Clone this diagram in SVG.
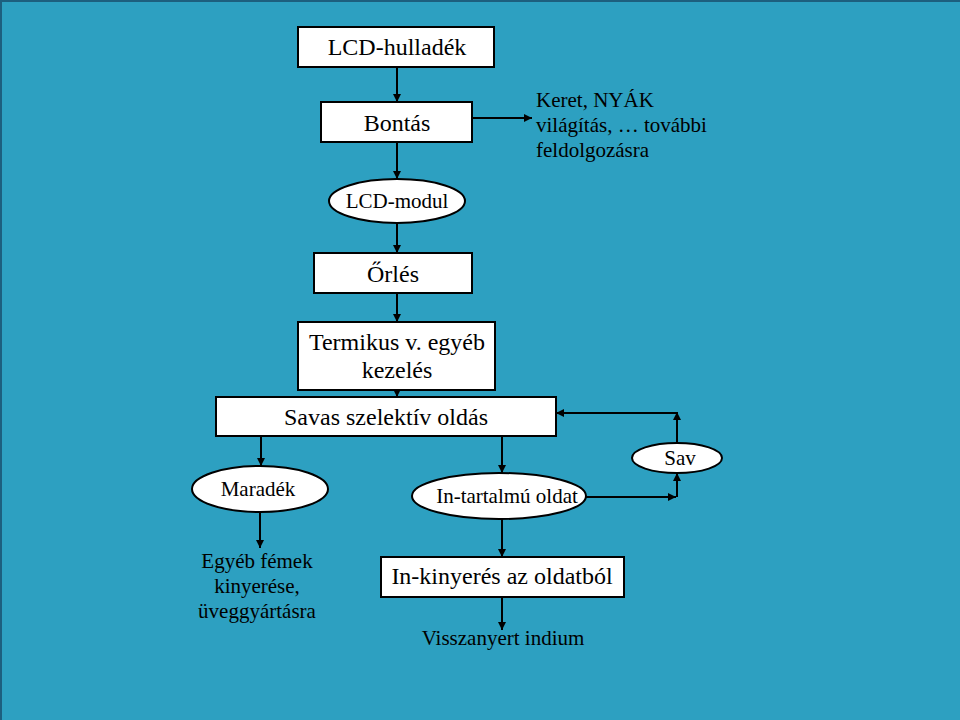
<svg xmlns="http://www.w3.org/2000/svg" width="960" height="720" viewBox="0 0 960 720">
<defs>
<marker id="ah" viewBox="0 0 10 10" refX="10" refY="5" markerWidth="8" markerHeight="8" markerUnits="userSpaceOnUse" orient="auto">
<path d="M0,0 L10,5 L0,10 z" fill="#000"/>
</marker>
</defs>
<style>
.box{fill:#fff;stroke:#000;stroke-width:2}
.t{font-family:"Liberation Serif","Times New Roman",serif;fill:#000;text-anchor:middle}
.l{font-size:24px}
.s{font-size:21px}
.w{font-family:"Liberation Serif","Times New Roman",serif;fill:#000;font-size:21px}
.c{fill:none;stroke:#000;stroke-width:2;marker-end:url(#ah)}
</style>
<rect x="0" y="0" width="960" height="720" fill="#2DA0C1"/>
<path d="M1,720 V1 H960" fill="none" stroke="#1d5f7e" stroke-width="2"/>
<g id="connectors">
<path class="c" d="M397,67 V102"/>
<path class="c" d="M472,118 H532"/>
<path class="c" d="M397,142 V179"/>
<path class="c" d="M397,223 V253"/>
<path class="c" d="M397,293 V322"/>
<path class="c" d="M397,390 V397"/>
<path class="c" d="M261,436 V466"/>
<path class="c" d="M502,436 V473"/>
<path class="c" d="M585,497 H676"/>
<path class="c" d="M677,497 V473"/>
<path class="c" d="M677,443 V412"/>
<path class="c" d="M677,413 H556"/>
<path class="c" d="M260,512 V548"/>
<path class="c" d="M502,518 V557"/>
<path class="c" d="M502,597 V630"/>
</g>
<g id="lcd-hulladek">
<rect class="box" x="298" y="27" width="196" height="40"/>
<text class="t l" x="397" y="55">LCD-hulladék</text>
</g>
<g id="bontas">
<rect class="box" x="321" y="102" width="151" height="40"/>
<text class="t l" x="397" y="131">Bontás</text>
</g>
<g id="keret">
<text class="w" x="536" y="107">Keret, NYÁK</text>
<text class="w" x="536" y="132">világítás, … további</text>
<text class="w" x="536" y="157">feldolgozásra</text>
</g>
<g id="lcd-modul">
<ellipse class="box" cx="397" cy="201" rx="68" ry="22"/>
<text class="t s" x="397" y="208">LCD-modul</text>
</g>
<g id="orles">
<rect class="box" x="314" y="253" width="158" height="40"/>
<text class="t l" x="393" y="282">Őrlés</text>
</g>
<g id="termikus">
<rect class="box" x="298" y="322" width="197" height="68"/>
<text class="t l" x="397" y="350">Termikus v. egyéb</text>
<text class="t l" x="397" y="378">kezelés</text>
</g>
<g id="savas">
<rect class="box" x="216" y="397" width="340" height="39"/>
<text class="t l" x="386" y="425">Savas szelektív oldás</text>
</g>
<g id="maradek">
<ellipse class="box" cx="260" cy="489" rx="68" ry="23"/>
<text class="t s" x="258" y="496">Maradék</text>
</g>
<g id="in-tartalmu">
<ellipse class="box" cx="499" cy="496" rx="87" ry="23"/>
<text class="t s" x="507" y="503">In-tartalmú oldat</text>
</g>
<g id="sav">
<ellipse class="box" cx="677" cy="458" rx="45" ry="15"/>
<text class="t s" x="680" y="465">Sav</text>
</g>
<g id="egyeb">
<text class="t s" x="257" y="568">Egyéb fémek</text>
<text class="t s" x="257" y="593">kinyerése,</text>
<text class="t s" x="257" y="618">üveggyártásra</text>
</g>
<g id="in-kinyeres">
<rect class="box" x="381" y="557" width="243" height="40"/>
<text class="t l" x="502" y="584">In-kinyerés az oldatból</text>
</g>
<g id="visszanyert">
<text class="t s" x="503" y="645">Visszanyert indium</text>
</g>
</svg>
